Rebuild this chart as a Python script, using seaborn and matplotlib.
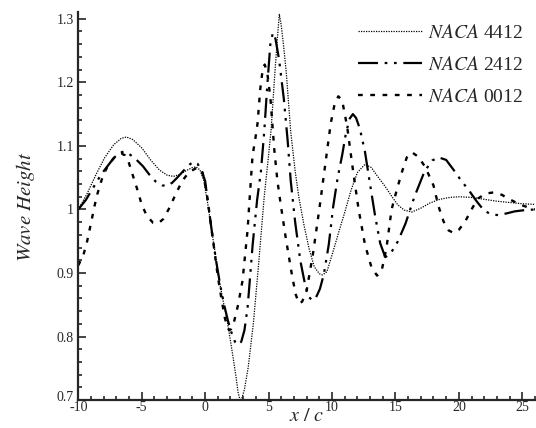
import matplotlib
matplotlib.use("Agg")
import matplotlib.pyplot as plt
import matplotlib.ticker as mticker
import matplotlib.transforms as mtransforms
import seaborn as sns
import pandas as pd

# wave height along x/c for three foils
x_4412 = [-10.0, -9.3, -8.6, -7.9, -7.2, -6.6, -6.2, -5.7, -5.0, -4.3, -3.6, -3.0, -2.5, -2.0,
          -1.5, -1.0, -0.7, -0.4, -0.1, 0.2, 0.5, 0.8, 1.1, 1.4, 1.7, 2.0, 2.2, 2.45, 2.6, 2.75,
          2.9, 3.1, 3.4, 3.8, 4.2, 4.65, 4.95, 5.2, 5.5, 5.7, 5.85, 6.0, 6.2, 6.4, 6.75, 7.1,
          7.4, 7.8, 8.2, 8.6, 9.0, 9.25, 9.6, 10.0, 10.5, 11.0, 11.5, 12.0, 12.6, 13.1, 13.6,
          14.2, 14.7, 15.2, 15.7, 16.3, 17.0, 17.7, 18.5, 19.3, 20.0, 21.0, 22.0, 23.0, 24.0,
          25.0, 26.0]
y_4412 = [1.000, 1.025, 1.055, 1.082, 1.102, 1.112, 1.114, 1.110, 1.097, 1.078, 1.062, 1.054,
          1.052, 1.055, 1.061, 1.066, 1.067, 1.062, 1.045, 1.010, 0.970, 0.930, 0.890, 0.858,
          0.830, 0.793, 0.768, 0.735, 0.712, 0.701, 0.703, 0.717, 0.752, 0.820, 0.910, 1.018,
          1.075, 1.125, 1.215, 1.270, 1.307, 1.290, 1.255, 1.215, 1.122, 1.060, 1.018, 0.975,
          0.938, 0.910, 0.899, 0.897, 0.902, 0.928, 0.962, 0.995, 1.030, 1.058, 1.071, 1.066,
          1.052, 1.036, 1.021, 1.007, 0.999, 0.996, 1.002, 1.010, 1.016, 1.019, 1.020, 1.019,
          1.016, 1.013, 1.011, 1.009, 1.008]

x_2412 = [-10.0, -9.4, -8.8, -8.2, -7.7, -7.2, -6.7, -6.3, -5.9, -5.4, -4.9, -4.4, -3.9, -3.4,
          -3.0, -2.6, -2.2, -1.7, -1.2, -0.9, -0.6, -0.3, 0.0, 0.3, 0.6, 0.9, 1.2, 1.5, 1.8,
          2.1, 2.35, 2.6, 2.85, 3.1, 3.35, 3.55, 3.75, 4.1, 4.4, 4.66, 4.9, 5.15, 5.35, 5.55,
          5.83, 6.2, 6.5, 6.75, 7.1, 7.5, 7.9, 8.2, 8.45, 8.75, 9.05, 9.36, 9.75, 10.1, 10.45,
          10.8, 11.1, 11.4, 11.65, 11.9, 12.2, 12.6, 13.0, 13.4, 13.8, 14.2, 14.6, 15.2, 15.8,
          16.5, 17.3, 17.9, 18.4, 19.0, 19.6, 20.2, 20.8, 21.4, 22.0, 22.5, 23.1, 23.8, 24.4,
          25.2, 26.0]
y_2412 = [1.000, 1.015, 1.035, 1.055, 1.068, 1.081, 1.090, 1.091, 1.086, 1.078, 1.068, 1.055,
          1.044, 1.038, 1.037, 1.042, 1.050, 1.061, 1.071, 1.075, 1.072, 1.062, 1.045, 1.000,
          0.955, 0.915, 0.880, 0.850, 0.825, 0.805, 0.792, 0.787, 0.792, 0.810, 0.846, 0.895,
          0.945, 1.015, 1.060, 1.122, 1.195, 1.262, 1.278, 1.268, 1.236, 1.175, 1.110, 1.045,
          0.980, 0.920, 0.880, 0.862, 0.857, 0.862, 0.875, 0.898, 0.945, 1.005, 1.050, 1.085,
          1.120, 1.143, 1.150, 1.144, 1.127, 1.091, 1.040, 0.990, 0.947, 0.925, 0.930, 0.950,
          0.978, 1.020, 1.060, 1.077, 1.082, 1.078, 1.062, 1.045, 1.030, 1.013, 0.998, 0.993,
          0.991, 0.994, 0.997, 0.999, 1.000]

x_0012 = [-10.0, -9.6, -9.3, -8.95, -8.7, -8.5, -8.04, -7.6, -7.1, -6.6, -6.3, -6.05, -5.8,
          -5.4, -5.0, -4.6, -4.1, -3.7, -3.3, -2.8, -2.3, -1.8, -1.3, -0.8, -0.5, -0.2, 0.1,
          0.4, 0.7, 1.0, 1.3, 1.55, 1.75, 1.9, 2.05, 2.3, 2.6, 2.95, 3.34, 3.6, 3.74, 3.95,
          4.13, 4.35, 4.55, 4.7, 4.9, 5.15, 5.45, 5.7, 5.96, 6.36, 6.88, 7.15, 7.4, 7.65, 8.0,
          8.5, 9.0, 9.5, 9.9, 10.2, 10.5, 10.8, 11.2, 11.6, 12.1, 12.6, 13.1, 13.55, 13.9,
          14.3, 14.7, 15.1, 15.5, 15.9, 16.3, 16.8, 17.35, 18.0, 18.4, 18.8, 19.2, 19.6, 20.0,
          20.5, 21.0, 21.5, 22.1, 22.8, 23.4, 23.9, 24.9, 26.0]
y_0012 = [0.912, 0.928, 0.950, 0.983, 1.007, 1.024, 1.054, 1.071, 1.083, 1.088, 1.085, 1.076,
          1.060, 1.035, 1.008, 0.990, 0.979, 0.978, 0.985, 1.003, 1.025, 1.045, 1.058, 1.064,
          1.066, 1.058, 1.030, 0.985, 0.940, 0.895, 0.858, 0.830, 0.815, 0.810, 0.812, 0.825,
          0.850, 0.888, 0.966, 1.044, 1.085, 1.110, 1.135, 1.190, 1.222, 1.228, 1.215, 1.175,
          1.095, 1.045, 1.008, 0.955, 0.893, 0.866, 0.852, 0.855, 0.872, 0.930, 1.000, 1.075,
          1.135, 1.165, 1.178, 1.172, 1.130, 1.070, 1.000, 0.945, 0.910, 0.896, 0.902, 0.940,
          1.000, 1.030, 1.058, 1.082, 1.090, 1.083, 1.067, 1.038, 1.005, 0.981, 0.967, 0.963,
          0.968, 0.981, 1.000, 1.017, 1.025, 1.027, 1.023, 1.017, 1.007, 1.000]

labels = [r"$NACA$ 4412", r"$NACA$ 2412", r"$NACA$ 0012"]

sns.set_style("ticks")
plt.rcParams["font.family"] = "serif"
plt.rcParams["font.serif"] = ["Liberation Serif", "DejaVu Serif"]
plt.rcParams["mathtext.fontset"] = "stix"
plt.rcParams["axes.unicode_minus"] = False

fig = plt.figure(figsize=(5.36, 4.28), dpi=100)
ax = fig.add_axes([0.146, 0.065, 0.852, 0.906])

series = [
    (x_4412, y_4412, labels[0], (0, (1, 1)), 0.9),
    (x_2412, y_2412, labels[1], (0, (9, 3, 1.2, 3, 1.2, 3)), 1.6),
    (x_0012, y_0012, labels[2], (0, (2, 3.2)), 1.7),
]
for xs, ys, lab, ls, lw in series:
    df = pd.DataFrame({"x": xs, "y": ys})
    sns.lineplot(data=df, x="x", y="y", ax=ax, color="black", linestyle=ls,
                 linewidth=lw, label=lab, estimator=None, sort=False)

ax.set_xlim(-10, 26)
ax.set_ylim(0.7, 1.31)
ax.xaxis.set_major_locator(mticker.MultipleLocator(5))
ax.xaxis.set_minor_locator(mticker.MultipleLocator(1))
ax.yaxis.set_major_locator(mticker.MultipleLocator(0.1))
ax.yaxis.set_minor_locator(mticker.MultipleLocator(0.02))
ax.yaxis.set_major_formatter(mticker.FormatStrFormatter("%g"))
ax.tick_params(which="both", direction="in", width=1.2, labelsize=10)
ax.tick_params(axis="x", pad=0.5)
ax.tick_params(axis="y", pad=3)
ax.tick_params(which="major", length=6)
ax.tick_params(which="minor", length=3)
for s in ["top", "right"]:
    ax.spines[s].set_visible(False)
for s in ["left", "bottom"]:
    ax.spines[s].set_linewidth(1.6)

ax.set_xlabel(r"$x\ /\ c$", fontsize=14.5, labelpad=-5)
ax.set_ylabel(r"$Wave\ Height$", fontsize=15, labelpad=14)

ax.legend(loc="upper right", bbox_to_anchor=(1.0, 1.0), frameon=False, fontsize=14,
          handlelength=3.3, handletextpad=0.3, labelspacing=0.72, borderaxespad=0.2)

# lift the lowest y label a little so it clears the -10 below it
fig.canvas.draw()
lift = mtransforms.ScaledTranslation(0, 3 / 72, fig.dpi_scale_trans)
for lbl in ax.get_yticklabels():
    if lbl.get_text() == "0.7":
        lbl.set_transform(lbl.get_transform() + lift)

fig.savefig("out.png", dpi=100)
